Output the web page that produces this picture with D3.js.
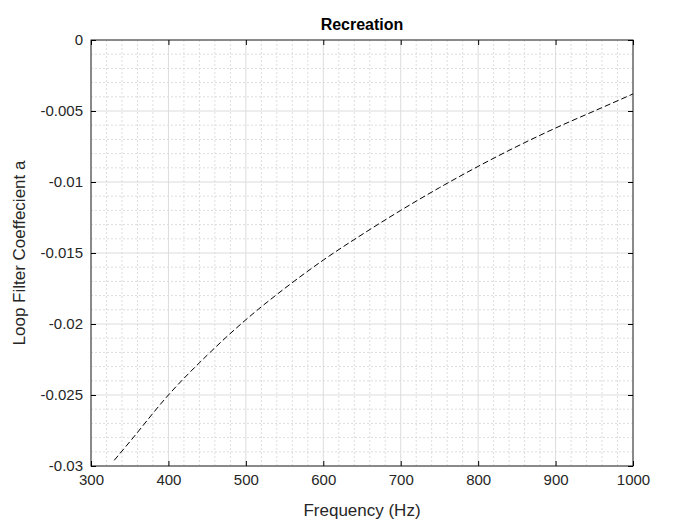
<!DOCTYPE html><html><head><script src="https://cdn.jsdelivr.net/npm/d3@7"></script>
<style>body{margin:0;background:#fff}text{font-family:Arial,"Liberation Sans",sans-serif}</style></head><body><svg width="700" height="525"></svg>
<script>
const freq=[330,350,400,450,500,550,600,650,700,750,800,850,900,950,1000];
const coef=[-0.0296,-0.0283,-0.0250,-0.0222,-0.0197,-0.0175,-0.0155,-0.0137,-0.0120,-0.0104,-0.0089,-0.0075,-0.0062,-0.0050,-0.0038];
const xTicks=[300,400,500,600,700,800,900,1000];
const yTicks=[0,-0.005,-0.01,-0.015,-0.02,-0.025,-0.03];
const svg=d3.select("svg");
const L=91,R=633,T=40,B=466;
const x=d3.scaleLinear().domain([300,1000]).range([L,R]);
const y=d3.scaleLinear().domain([-0.03,0]).range([B,T]);
const g=svg.append("g");
d3.range(300,1001,20).forEach(v=>{if(v%100)g.append("line").attr("x1",x(v)).attr("x2",x(v)).attr("y1",T).attr("y2",B).attr("stroke","#ddd").attr("stroke-dasharray","2,2");});
d3.range(0,31).forEach(i=>{if(i%5){const v=-i*0.001;g.append("line").attr("y1",y(v)).attr("y2",y(v)).attr("x1",L).attr("x2",R).attr("stroke","#ddd").attr("stroke-dasharray","2,2");}});
xTicks.forEach(v=>g.append("line").attr("x1",x(v)).attr("x2",x(v)).attr("y1",T).attr("y2",B).attr("stroke","#dcdcdc"));
yTicks.forEach(v=>g.append("line").attr("y1",y(v)).attr("y2",y(v)).attr("x1",L).attr("x2",R).attr("stroke","#dcdcdc"));
svg.append("path").datum(freq.map((f,i)=>[f,coef[i]])).attr("d",d3.line().x(d=>x(d[0])).y(d=>y(d[1])).curve(d3.curveMonotoneX)).attr("fill","none").attr("stroke","#000").attr("stroke-dasharray","6,3");
svg.append("rect").attr("x",L).attr("y",T).attr("width",R-L).attr("height",B-T).attr("fill","none").attr("stroke","#262626");
const fmt=v=>v===0?"0":String(+v.toFixed(3));
const st=a=>{a.select(".domain").remove();a.selectAll("text").style("font-size","15px").style("font-family","Arial, 'Liberation Sans', sans-serif").attr("fill","#262626");};
svg.append("g").attr("transform",`translate(0,${B})`).call(d3.axisBottom(x).tickValues(xTicks).tickSize(-5).tickPadding(8).tickFormat(d=>String(d))).call(st);
svg.append("g").attr("transform",`translate(0,${T})`).call(d3.axisTop(x).tickValues(xTicks).tickSize(-5).tickFormat("")).call(a=>a.select(".domain").remove());
svg.append("g").attr("transform",`translate(${L},0)`).call(d3.axisLeft(y).tickValues(yTicks).tickSize(-5).tickPadding(8).tickFormat(fmt)).call(st);
svg.append("g").attr("transform",`translate(${R},0)`).call(d3.axisRight(y).tickValues(yTicks).tickSize(-5).tickFormat("")).call(a=>a.select(".domain").remove());
svg.append("text").attr("x",(L+R)/2).attr("y",30).attr("text-anchor","middle").attr("font-size",16).attr("font-weight","bold").text("Recreation");
svg.append("text").attr("x",(L+R)/2).attr("y",516).attr("text-anchor","middle").attr("font-size",17).attr("fill","#262626").text("Frequency (Hz)");
svg.append("text").attr("transform",`translate(25,${(T+B)/2}) rotate(-90)`).attr("text-anchor","middle").attr("font-size",17).attr("fill","#262626").text("Loop Filter Coeffecient a");
</script></body></html>
